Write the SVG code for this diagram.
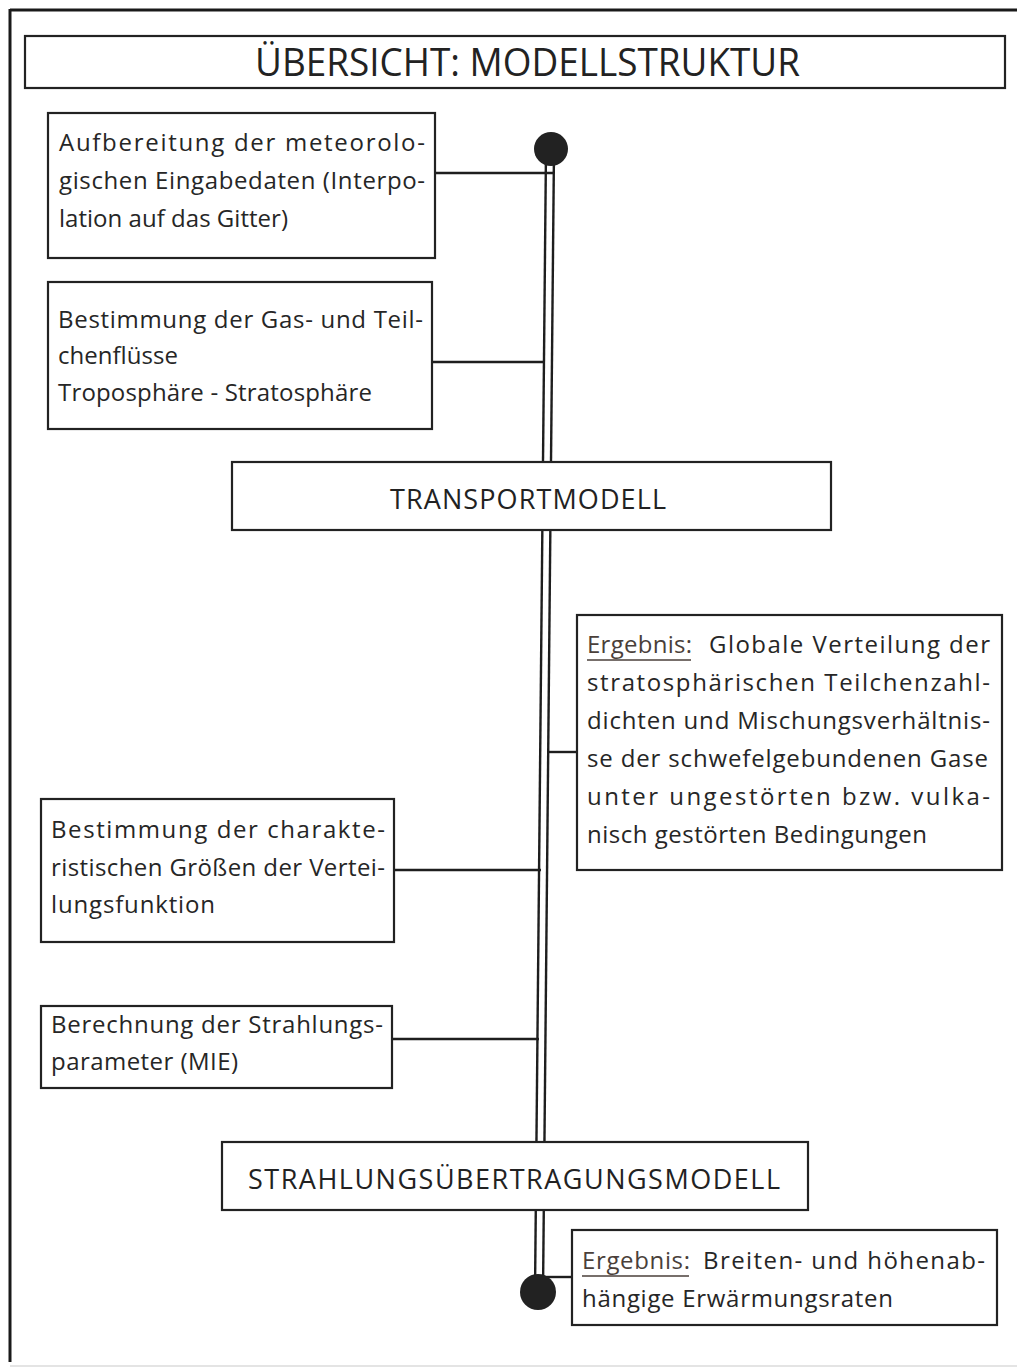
<svg xmlns="http://www.w3.org/2000/svg" width="1017" height="1371" viewBox="0 0 1017 1371">
<style>
.box{fill:#fff;stroke:#222;stroke-width:2.2}
.frame{stroke:#1a1a1a;stroke-width:3;fill:none}
.rail{stroke:#1e1e1e;stroke-width:2.4;fill:none}
.t{font-family:"Open Sans","Noto Sans","Liberation Sans",sans-serif;font-size:24px;fill:#262626}
.h{font-family:"Open Sans","Noto Sans","Liberation Sans",sans-serif;font-size:27px;fill:#222}
.title{font-family:"Open Sans","Noto Sans","Liberation Sans",sans-serif;font-size:38px;fill:#222}
.erg{fill:#4a3f3a}
.ul{stroke:#4a3f3a;stroke-width:1.6}
</style>
<rect width="1017" height="1371" fill="#fff"/>
<g id="frame">
<line class="frame" x1="10" y1="10" x2="1017" y2="10"/>
<line class="frame" x1="10" y1="9" x2="10" y2="1362"/>
<line x1="10" y1="1366" x2="1017" y2="1366" stroke="#e4e4e4" stroke-width="2"/>
</g>
<g id="connectors">
<line class="rail" x1="546" y1="150" x2="535" y2="1292"/>
<line class="rail" x1="554" y1="150" x2="543" y2="1292"/>
<line class="rail" x1="435" y1="173" x2="554" y2="173"/>
<line class="rail" x1="432" y1="362" x2="543" y2="362"/>
<line class="rail" x1="549" y1="752" x2="577" y2="752"/>
<line class="rail" x1="394" y1="870" x2="541" y2="870"/>
<line class="rail" x1="392" y1="1039" x2="539" y2="1039"/>
<line class="rail" x1="543" y1="1277" x2="572" y2="1277"/>
<circle cx="551" cy="149" r="17" fill="#222"/>
<circle cx="538" cy="1292" r="18" fill="#222"/>
</g>
<g id="title">
<rect class="box" x="25" y="36" width="980" height="52"/>
<text class="title" x="255" y="76" textLength="545" lengthAdjust="spacingAndGlyphs">ÜBERSICHT: MODELLSTRUKTUR</text>
</g>
<g id="n1">
<rect class="box" x="48" y="113" width="387" height="145"/>
<text class="t" x="59" y="151" textLength="366" lengthAdjust="spacing">Aufbereitung der meteorolo-</text>
<text class="t" x="59" y="189" textLength="366" lengthAdjust="spacing">gischen Eingabedaten (Interpo-</text>
<text class="t" x="59" y="227" textLength="229" lengthAdjust="spacing">lation auf das Gitter)</text>
</g>
<g id="n2">
<rect class="box" x="48" y="282" width="384" height="147"/>
<text class="t" x="58" y="328" textLength="365" lengthAdjust="spacing">Bestimmung der Gas- und Teil-</text>
<text class="t" x="58" y="364" textLength="120" lengthAdjust="spacing">chenflüsse</text>
<text class="t" x="58" y="401" textLength="314" lengthAdjust="spacing">Troposphäre - Stratosphäre</text>
</g>
<g id="n3">
<rect class="box" x="232" y="462" width="599" height="68"/>
<text class="h" x="390" y="509" textLength="276" lengthAdjust="spacing">TRANSPORTMODELL</text>
</g>
<g id="n4">
<rect class="box" x="577" y="615" width="425" height="255"/>
<text class="t erg" x="587" y="653" textLength="105" lengthAdjust="spacing">Ergebnis:</text>
<line class="ul" x1="587" y1="660" x2="691" y2="660"/>
<text class="t" x="709" y="653" textLength="281" lengthAdjust="spacing">Globale Verteilung der</text>
<text class="t" x="587" y="691" textLength="403" lengthAdjust="spacing">stratosphärischen Teilchenzahl-</text>
<text class="t" x="587" y="729" textLength="403" lengthAdjust="spacing">dichten und Mischungsverhältnis-</text>
<text class="t" x="587" y="767" textLength="401" lengthAdjust="spacing">se der schwefelgebundenen Gase</text>
<text class="t" x="587" y="805" textLength="403" lengthAdjust="spacing">unter ungestörten bzw. vulka-</text>
<text class="t" x="587" y="843" textLength="340" lengthAdjust="spacing">nisch gestörten Bedingungen</text>
</g>
<g id="n5">
<rect class="box" x="41" y="799" width="353" height="143"/>
<text class="t" x="51" y="838" textLength="334" lengthAdjust="spacing">Bestimmung der charakte-</text>
<text class="t" x="51" y="876" textLength="334" lengthAdjust="spacing">ristischen Größen der Vertei-</text>
<text class="t" x="51" y="913" textLength="164" lengthAdjust="spacing">lungsfunktion</text>
</g>
<g id="n6">
<rect class="box" x="41" y="1006" width="351" height="82"/>
<text class="t" x="51" y="1033" textLength="332" lengthAdjust="spacing">Berechnung der Strahlungs-</text>
<text class="t" x="51" y="1070" textLength="187" lengthAdjust="spacing">parameter (MIE)</text>
</g>
<g id="n7">
<rect class="box" x="222" y="1142" width="586" height="68"/>
<text class="h" x="248" y="1189" textLength="532" lengthAdjust="spacing">STRAHLUNGSÜBERTRAGUNGSMODELL</text>
</g>
<g id="n8">
<rect class="box" x="572" y="1230" width="425" height="95"/>
<text class="t erg" x="582" y="1269" textLength="108" lengthAdjust="spacing">Ergebnis:</text>
<line class="ul" x1="582" y1="1276" x2="689" y2="1276"/>
<text class="t" x="703" y="1269" textLength="282" lengthAdjust="spacing">Breiten- und höhenab-</text>
<text class="t" x="582" y="1307" textLength="311" lengthAdjust="spacing">hängige Erwärmungsraten</text>
</g>
</svg>
